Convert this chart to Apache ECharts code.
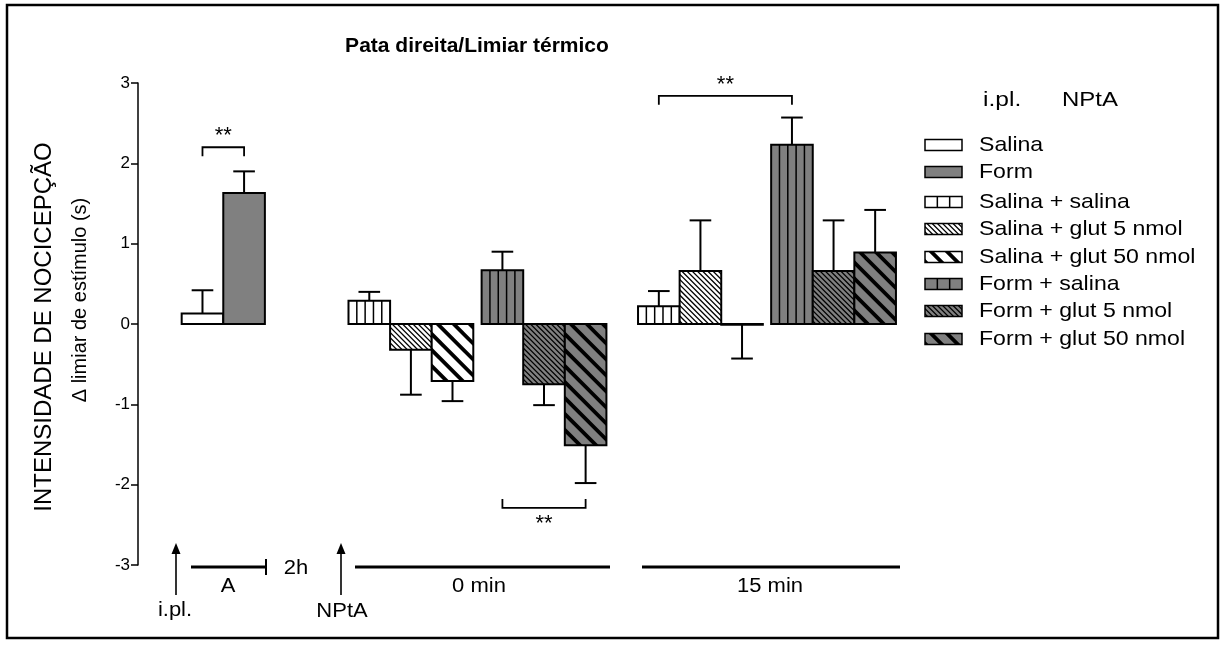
<!DOCTYPE html>
<html><head><meta charset="utf-8">
<script src="https://cdn.jsdelivr.net/npm/echarts@6/dist/echarts.min.js"></script>
<style>html,body{margin:0;padding:0;background:#fff}#c{width:1220px;height:648px}</style>
</head><body><div id="c"></div>
<script>
// ---------------- data ----------------
const titleText = 'Pata direita/Limiar térmico';
const yTitle1 = 'INTENSIDADE DE NOCICEPÇÃO';
const yTitle2 = 'Δ limiar de estímulo (s)';
const yTicks = [-3, -2, -1, 0, 1, 2, 3];

const preLabels = ['Salina', 'Form'];
const preMeans = [0.13, 1.63];
const preSem = [0.29, 0.27];

const treatLabels = ['Salina + salina', 'Salina + glut 5 nmol', 'Salina + glut 50 nmol',
                     'Form + salina', 'Form + glut 5 nmol', 'Form + glut 50 nmol'];
const means0 = [0.29, -0.32, -0.71, 0.67, -0.75, -1.51];
const sem0   = [0.11, 0.56, 0.25, 0.23, 0.26, 0.47];
const means15 = [0.22, 0.66, -0.01, 2.23, 0.66, 0.89];
const sem15   = [0.19, 0.63, 0.42, 0.34, 0.63, 0.53];

const timeLabels = ['0 min', '15 min'];
const legendHeader = ['i.pl.', 'NPtA'];
// significance: [bar index a, bar index b] in global bar order, level, label
const sigPairs = [[0, 1], [5, 7], [8, 11]];
const sigLevels = [2.2, -2.29, 2.84];
const sigText = ['**', '**', '**'];

// ---------------- styles / layout ----------------
const GRAY = '#808080';
const FONT = '"Liberation Sans", Arial, Helvetica, sans-serif';
const styleDefs = [
  {fill: '#fff', pat: 'none'}, {fill: GRAY, pat: 'none'},
  {fill: '#fff', pat: 'vert'}, {fill: '#fff', pat: 'thin'}, {fill: '#fff', pat: 'thick'},
  {fill: GRAY, pat: 'vert'}, {fill: GRAY, pat: 'thin'}, {fill: GRAY, pat: 'thick'}
];
const preStart = 1.55, g0Start = 5.56, g15Start = 12.52, subGap = 3.2;

const bars = [];
preMeans.forEach((m, i) => bars.push([preStart + i, m, preSem[i], i]));
[[g0Start, means0, sem0], [g15Start, means15, sem15]].forEach(([st, ms, ss]) => {
  ms.forEach((m, i) => {
    const x = st + (i < 3 ? i : subGap + (i - 3));
    bars.push([x, m, ss[i], 2 + i]);
  });
});
const brackets = sigPairs.map((p, k) => [bars[p[0]][0], bars[p[1]][0], sigLevels[k], k]);

// ---------------- pattern helpers ----------------
function clipHalf(poly, f) {
  const out = [];
  for (let i = 0; i < poly.length; i++) {
    const a = poly[i], b = poly[(i + 1) % poly.length];
    const fa = f(a), fb = f(b);
    if (fa >= 0) out.push(a);
    if ((fa >= 0) !== (fb >= 0)) {
      const t = fa / (fa - fb);
      out.push([a[0] + t * (b[0] - a[0]), a[1] + t * (b[1] - a[1])]);
    }
  }
  return out;
}
function patternEls(x0, y0, x1, y1, pat, vertCols) {
  const els = [];
  if (x1 - x0 < 0.5 || y1 - y0 < 0.5) return els;
  if (pat === 'vert') {
    const n = vertCols;
    for (let k = 1; k < n; k++) {
      const x = x0 + k * (x1 - x0) / n;
      els.push({type: 'line', shape: {x1: x, y1: y0, x2: x, y2: y1}, style: {stroke: '#000', lineWidth: 1.5}});
    }
  } else if (pat === 'thin' || pat === 'thick') {
    const s = pat === 'thin' ? 5.2 : 16;
    const lw = pat === 'thin' ? 1.3 : 3.8;
    const h = lw * Math.SQRT2 / 2;
    const rect = [[x0, y0], [x1, y0], [x1, y1], [x0, y1]];
    const cMin = x0 - y1 - s, cMax = x1 - y0 + s;
    const phase = x0 - y0 + (pat === 'thin' ? 2 : 6);
    const kStart = Math.floor((cMin - phase) / s);
    for (let c = phase + kStart * s; c <= cMax; c += s) {
      let poly = clipHalf(rect, p => (p[0] - p[1]) - (c - h));
      if (poly.length < 3) continue;
      poly = clipHalf(poly, p => (c + h) - (p[0] - p[1]));
      if (poly.length < 3) continue;
      els.push({type: 'polygon', shape: {points: poly}, style: {fill: '#000'}});
    }
  }
  return els;
}

// ---------------- render functions ----------------
function renderBar(params, api) {
  const x = api.value(0), v = api.value(1), e = api.value(2), si = api.value(3);
  const sd = styleDefs[si];
  const pa = api.coord([x - 0.5, 0]);
  const pb = api.coord([x + 0.5, v]);
  const x0 = pa[0], x1 = pb[0];
  const yt = Math.min(pa[1], pb[1]), yb = Math.max(pa[1], pb[1]);
  const dir = v >= 0 ? 1 : -1;
  const pv = api.coord([x, v]);
  const pe = api.coord([x, v + dir * e]);
  const cap = (x1 - x0) * 0.26;
  const ch = [];
  ch.push({type: 'line', shape: {x1: pv[0], y1: pv[1], x2: pe[0], y2: pe[1]}, style: {stroke: '#000', lineWidth: 2}});
  ch.push({type: 'line', shape: {x1: pe[0] - cap, y1: pe[1], x2: pe[0] + cap, y2: pe[1]}, style: {stroke: '#000', lineWidth: 2}});
  ch.push({type: 'rect', shape: {x: x0, y: yt, width: x1 - x0, height: yb - yt}, style: {fill: sd.fill}});
  patternEls(x0, yt, x1, yb, sd.pat, 5).forEach(el => ch.push(el));
  ch.push({type: 'rect', shape: {x: x0, y: yt, width: x1 - x0, height: yb - yt}, style: {fill: 'none', stroke: '#000', lineWidth: 2}});
  return {type: 'group', children: ch};
}
function renderBracket(params, api) {
  const xa = api.value(0), xb = api.value(1), yv = api.value(2), k = api.value(3);
  const pa = api.coord([xa, yv]), pb = api.coord([xb, yv]);
  const down = yv > 0 ? 1 : -1;
  const tl = 9;
  return {type: 'group', children: [
    {type: 'polyline', shape: {points: [[pa[0], pa[1] + down * tl], [pa[0], pa[1]], [pb[0], pb[1]], [pb[0], pb[1] + down * tl]]},
     style: {stroke: '#000', lineWidth: 1.8, fill: 'none'}},
    {type: 'text', x: (pa[0] + pb[0]) / 2, y: pa[1] - down * (yv > 0 ? 11 : 16),
     style: {text: sigText[k], font: '22px ' + FONT, fill: '#000', align: 'center', verticalAlign: 'middle'}}
  ]};
}

// ---------------- graphic (legend, titles, timeline) ----------------
const graphic = [];
const T = (x, y, text, size, opts, align) => Object.assign({type: 'text', x: x, y: y,
  style: {text: text, font: size + 'px ' + FONT, fill: '#000', align: align || 'center', verticalAlign: 'middle'}}, opts || {});
graphic.push({type: 'rect', shape: {x: 7, y: 5, width: 1211, height: 633}, style: {fill: 'none', stroke: '#000', lineWidth: 2.5}, silent: true});
graphic.push({type: 'text', x: 477, y: 46, style: {text: titleText, font: 'bold 21px ' + FONT, fill: '#000', align: 'center', verticalAlign: 'middle'}});
graphic.push(T(44, 327, yTitle1, 24, {rotation: Math.PI / 2}));
graphic.push(T(80, 300, yTitle2, 20, {rotation: Math.PI / 2}));
// legend
graphic.push(T(983, 100, legendHeader[0], 21, {scaleX: 1.17}, 'left'));
graphic.push(T(1062, 100, legendHeader[1], 21, {scaleX: 1.14}, 'left'));
const legendNames = preLabels.concat(treatLabels);
const legendY = [145, 172, 202, 229, 257, 284, 311, 339];
legendNames.forEach((name, i) => {
  const y = legendY[i], sd = styleDefs[i];
  const x0 = 925, x1 = 962, y0 = y - 5.5, y1 = y + 5.5;
  const ch = [{type: 'rect', shape: {x: x0, y: y0, width: x1 - x0, height: y1 - y0}, style: {fill: sd.fill}}];
  patternEls(x0, y0, x1, y1, sd.pat, 3).forEach(el => ch.push(el));
  ch.push({type: 'rect', shape: {x: x0, y: y0, width: x1 - x0, height: y1 - y0}, style: {fill: 'none', stroke: '#000', lineWidth: 1.5}});
  graphic.push({type: 'group', children: ch});
  graphic.push(T(979, y, name, 21, {scaleX: 1.1}, 'left'));
});
// timeline
function arrow(x, yTop, yBot) {
  graphic.push({type: 'line', shape: {x1: x, y1: yTop + 8, x2: x, y2: yBot}, style: {stroke: '#000', lineWidth: 1.6}});
  graphic.push({type: 'polygon', shape: {points: [[x, yTop], [x - 4.5, yTop + 11], [x + 4.5, yTop + 11]]}, style: {fill: '#000'}});
}
arrow(176, 543, 595);
arrow(341, 543, 595);
graphic.push(T(175, 610, legendHeader[0], 20, {scaleX: 1.1}));
graphic.push(T(342, 611, legendHeader[1], 20, {scaleX: 1.1}));
graphic.push({type: 'line', shape: {x1: 191, y1: 567, x2: 266, y2: 567}, style: {stroke: '#000', lineWidth: 3}});
graphic.push({type: 'line', shape: {x1: 266, y1: 559, x2: 266, y2: 575}, style: {stroke: '#000', lineWidth: 2}});
graphic.push(T(228, 586, 'A', 20, {scaleX: 1.1}));
graphic.push(T(296, 568, '2h', 20, {scaleX: 1.1}));
graphic.push({type: 'line', shape: {x1: 355, y1: 567, x2: 610, y2: 567}, style: {stroke: '#000', lineWidth: 3}});
graphic.push({type: 'line', shape: {x1: 642, y1: 567, x2: 900, y2: 567}, style: {stroke: '#000', lineWidth: 3}});
graphic.push(T(479, 586, timeLabels[0], 20, {scaleX: 1.1}));
graphic.push(T(770, 586, timeLabels[1], 20, {scaleX: 1.1}));

// ---------------- chart ----------------
const chart = echarts.init(document.getElementById('c'), null, {renderer: 'canvas'});
chart.setOption({
  animation: false,
  backgroundColor: '#fff',
  grid: {left: 138, top: 83, bottom: 83, width: 832},
  xAxis: {type: 'value', min: 0, max: 20, show: false},
  yAxis: {
    type: 'value', min: yTicks[0], max: yTicks[yTicks.length - 1], interval: 1,
    axisLine: {show: true, lineStyle: {color: '#000', width: 1.5}},
    axisTick: {show: true, length: 7, lineStyle: {color: '#000', width: 1.5}},
    axisLabel: {color: '#000', fontSize: 17, fontFamily: FONT, margin: 8},
    splitLine: {show: false}
  },
  series: [
    {type: 'custom', name: 'bars', renderItem: renderBar, data: bars, encode: {x: 0, y: 1}, clip: false, silent: true},
    {type: 'custom', name: 'sig', renderItem: renderBracket, data: brackets, encode: {x: [0, 1], y: 2}, clip: false, silent: true}
  ],
  graphic: graphic
});
</script>
</body></html>
